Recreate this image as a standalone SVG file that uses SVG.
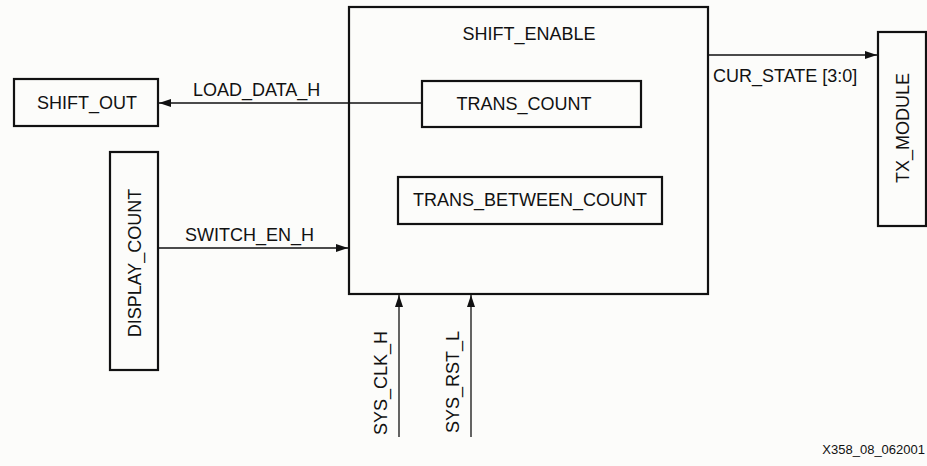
<svg xmlns="http://www.w3.org/2000/svg" width="927" height="466" viewBox="0 0 927 466">
<defs>
<style>
.box{fill:none;stroke:#111;stroke-width:2.2}
.ln{fill:none;stroke:#111;stroke-width:1.3}
.t{font-family:"Liberation Sans",Arial,sans-serif;font-size:18px;fill:#111}
.m{text-anchor:middle}
.f{font-family:"Liberation Sans",Arial,sans-serif;font-size:13px;fill:#111;text-anchor:end}
</style>
<marker id="ah" viewBox="0 0 12 8" refX="12" refY="4" markerWidth="12" markerHeight="8" markerUnits="userSpaceOnUse" orient="auto">
<path d="M0,0 L12,4 L0,8 Z" fill="#111"/>
</marker>
</defs>
<rect width="927" height="466" fill="#fcfcfa"/>
<g id="connectors">
<line class="ln" x1="422" y1="103" x2="159" y2="103" marker-end="url(#ah)"/>
<text class="t" x="193" y="96">LOAD_DATA_H</text>
<line class="ln" x1="158" y1="248" x2="348" y2="248" marker-end="url(#ah)"/>
<text class="t" x="185" y="241">SWITCH_EN_H</text>
<line class="ln" x1="708" y1="55" x2="877" y2="55" marker-end="url(#ah)"/>
<text class="t" x="713" y="82">CUR_STATE [3:0]</text>
<line class="ln" x1="399" y1="437" x2="399" y2="295" marker-end="url(#ah)"/>
<text class="t" transform="translate(387,435) rotate(-90)">SYS_CLK_H</text>
<line class="ln" x1="471" y1="437" x2="471" y2="295" marker-end="url(#ah)"/>
<text class="t" transform="translate(459,433) rotate(-90)">SYS_RST_L</text>
</g>
<g id="shift_enable">
<rect class="box" x="349" y="7" width="359" height="287"/>
<text class="t m" x="529" y="40">SHIFT_ENABLE</text>
</g>
<g id="trans_count">
<rect class="box" x="422" y="81" width="219" height="46"/>
<text class="t m" x="524" y="110">TRANS_COUNT</text>
</g>
<g id="trans_between_count">
<rect class="box" x="398" y="177" width="264" height="47"/>
<text class="t m" x="530" y="206">TRANS_BETWEEN_COUNT</text>
</g>
<g id="shift_out">
<rect class="box" x="14" y="79" width="144" height="47"/>
<text class="t m" x="87" y="109">SHIFT_OUT</text>
</g>
<g id="display_count">
<rect class="box" x="110" y="152" width="48" height="218"/>
<text class="t m" transform="translate(141,263) rotate(-90)">DISPLAY_COUNT</text>
</g>
<g id="tx_module">
<rect class="box" x="878" y="32" width="48" height="194"/>
<text class="t m" transform="translate(909,128) rotate(-90)">TX_MODULE</text>
</g>
<text class="f" x="925" y="454">X358_08_062001</text>
</svg>
